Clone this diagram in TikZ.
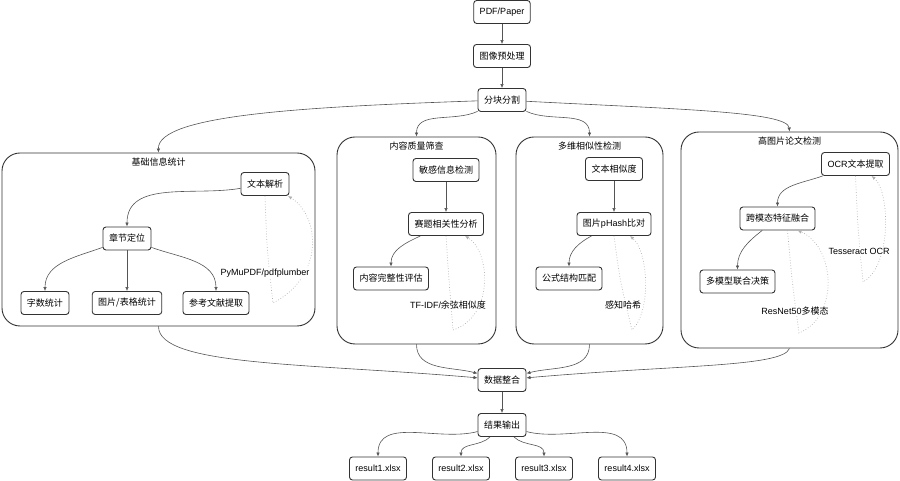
\documentclass[tikz,border=0pt]{standalone}
\usepackage{fontspec}
\setmainfont{Liberation Sans}
\newfontfamily\zh{Noto Sans CJK SC}
\usepackage{tikz}
\usetikzlibrary{arrows.meta,positioning}
\definecolor{edgegray}{HTML}{555555}
\definecolor{boxline}{HTML}{333333}
\definecolor{loopgray}{HTML}{B0B0B0}

\begin{document}
\begin{tikzpicture}[x=1pt, y=1pt,
  box/.style={draw=boxline, rounded corners=3pt, fill=white, line width=0.9pt,
              minimum height=23pt, inner xsep=6pt, font=\fontsize{9}{11}\selectfont},
  cluster/.style={draw=boxline, rounded corners=18pt, line width=0.9pt},
  ctitle/.style={inner sep=1pt, font=\fontsize{9}{11}\selectfont},
  lbl/.style={fill=white, inner sep=1pt, font=\fontsize{9}{11}\selectfont},
  arr/.style={-{Latex[length=4pt, width=3.5pt]}, draw=edgegray, line width=0.6pt},
  tool/.style={-{Latex[length=4pt, width=3.5pt]}, draw=loopgray, dotted, line width=0.7pt}
]
\useasboundingbox (0,0) rectangle (900,481);

% groups
\node[cluster, minimum width=313pt, minimum height=173pt] (c1) at (158.5,241.5) {};
\node[cluster, minimum width=159pt, minimum height=207pt] (c2) at (416.5,240.5) {};
\node[cluster, minimum width=147pt, minimum height=207pt] (c3) at (589.5,240.5) {};
\node[cluster, minimum width=217pt, minimum height=216pt] (c4) at (789.5,241) {};
\node[ctitle, below=4pt of c1.north] {\zh 基础信息统计};
\node[ctitle, below=4pt of c2.north] {\zh 内容质量筛查};
\node[ctitle, below=4pt of c3.north] {\zh 多维相似性检测};
\node[ctitle, below=4pt of c4.north] {\zh 高图片论文检测};

% main spine
\node[box] (pdf) at (502,469) {PDF/Paper};
\node[box] (prep) at (502,425) {\zh 图像预处理};
\node[box] (split) at (502,381) {\zh 分块分割};
\node[box] (merge) at (502,101) {\zh 数据整合};
\node[box] (out) at (502,56) {\zh 结果输出};

% basic statistics
\node[box] (parse) at (265,297) {\zh 文本解析};
\node[box] (locate) at (127,242.5) {\zh 章节定位};
\node[box] (words) at (45,178) {\zh 字数统计};
\node[box] (figs) at (127,178) {\zh 图片/表格统计};
\node[box] (refs) at (216,178) {\zh 参考文献提取};

% content screening
\node[box] (sens) at (446,311) {\zh 敏感信息检测};
\node[box] (rel) at (446,257) {\zh 赛题相关性分析};
\node[box] (comp) at (391,202.5) {\zh 内容完整性评估};

% similarity
\node[box] (tsim) at (614,312) {\zh 文本相似度};
\node[box] (phash) at (614,257) {{\zh 图片}pHash{\zh 比对}};
\node[box] (formula) at (569,202.5) {\zh 公式结构匹配};

% image-heavy papers
\node[box] (ocr) at (855.5,317) {OCR{\zh 文本提取}};
\node[box] (fuse) at (777.5,262.5) {\zh 跨模态特征融合};
\node[box] (decide) at (737.5,199.5) {\zh 多模型联合决策};

% results
\node[box] (r1) at (378,12.5) {result1.xlsx};
\node[box] (r2) at (461,12.5) {result2.xlsx};
\node[box] (r3) at (544,12.5) {result3.xlsx};
\node[box] (r4) at (627,12.5) {result4.xlsx};

% loop tips
\coordinate (t1) at (273,178);
\coordinate (t2) at (453,151);
\coordinate (t3) at (632,151);
\coordinate (t4) at (863,199);
\coordinate (t5) at (799,148);

\draw[arr] (pdf) -- (prep);
\draw[arr] (prep) -- (split);
\draw[arr] (split) to[out=182, in=92, out distance=170pt, in distance=38pt] (c1.north);
\draw[arr] (split) to[out=205, in=90] (c2.north);
\draw[arr] (split) to[out=-25, in=90] (c3.north);
\draw[arr] (split) to[out=-3, in=95, out distance=150pt, in distance=20pt] (c4.north);

\draw[arr] (parse) to[out=190, in=90] (locate.north);
\draw[arr] (locate) to[out=200, in=90] (words.north);
\draw[arr] (locate) -- (figs);
\draw[arr] (locate) to[out=-20, in=90] (refs.north);
\draw[arr] (sens) -- (rel);
\draw[arr] (rel) to[out=205, in=90] (comp.north);
\draw[arr] (tsim) -- (phash);
\draw[arr] (phash) to[out=208, in=90] (formula.north);
\draw[arr] (ocr) to[out=200, in=90] (fuse.north);
\draw[arr] (fuse) to[out=218, in=90] (decide.north);

% tool loops
\draw[tool] (parse.south) .. controls (267,230) .. (t1)
            .. controls (325,205) and (320,265) .. ([xshift=23pt]parse.south);
\draw[tool] (rel.south) .. controls (449,200) .. (t2)
            .. controls (495,165) and (490,230) .. ([xshift=19pt]rel.south);
\draw[tool] (phash.south) .. controls (620,200) .. (t3)
            .. controls (652,170) and (648,230) .. ([xshift=16pt]phash.south);
\draw[tool] (ocr.south) .. controls (858,250) .. (t4)
            .. controls (892,215) and (890,290) .. ([xshift=16pt]ocr.south);
\draw[tool] ([xshift=10pt]fuse.south) .. controls (792,200) .. (t5)
            .. controls (840,165) and (835,235) .. ([xshift=20pt]fuse.south);
\node[lbl] at (265,208) {PyMuPDF/pdfplumber};
\node[lbl] at (448,176) {TF-IDF/{\zh 余弦相似度}};
\node[lbl] at (623,176) {\zh 感知哈希};
\node[lbl] at (859,230) {Tesseract OCR};
\node[lbl] at (795,170) {ResNet50{\zh 多模态}};

\draw[arr] (c1.south) to[out=-90, in=175, out distance=40pt, in distance=170pt] (merge);
\draw[arr] (c2.south) to[out=-90, in=165] (merge);
\draw[arr] (c3.south) to[out=-90, in=15] (merge);
\draw[arr] (c4.south) to[out=-110, in=5, out distance=20pt, in distance=150pt] (merge);
\draw[arr] (merge) -- (out);
\draw[arr] (out) to[out=195, in=90] (r1.north);
\draw[arr] (out) to[out=225, in=90] (r2.north);
\draw[arr] (out) to[out=-45, in=90] (r3.north);
\draw[arr] (out) to[out=-15, in=90] (r4.north);
\end{tikzpicture}
\end{document}
